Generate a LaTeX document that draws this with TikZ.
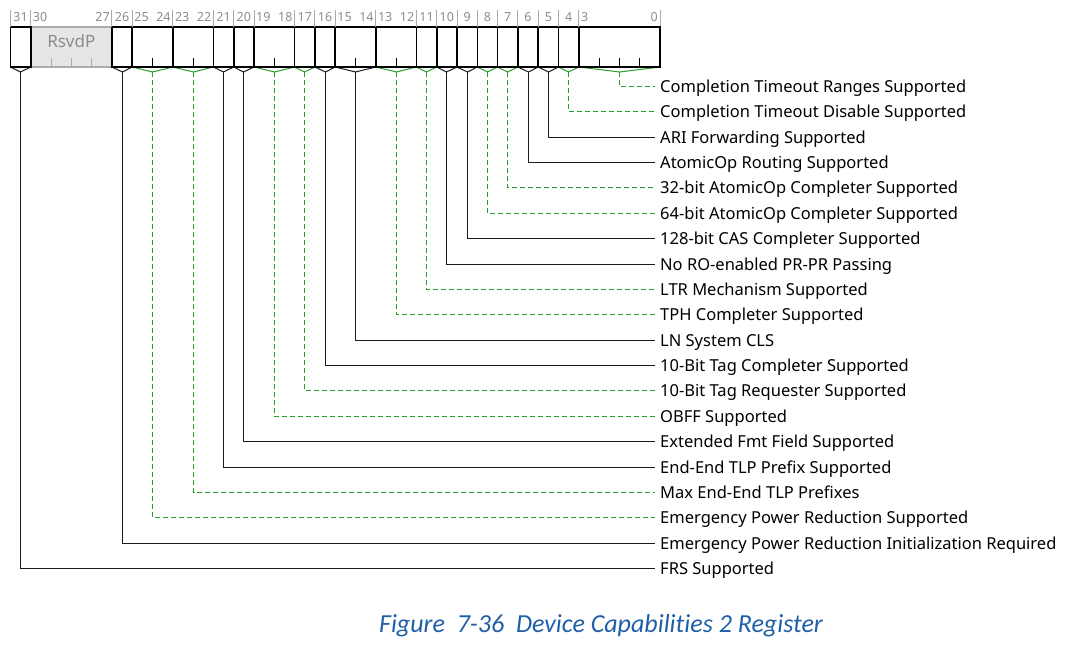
\documentclass[tikz,border=0pt]{standalone}
\usepackage{fontspec}
\setmainfont{Noto Sans}
\newfontfamily\capfont[Ligatures={NoCommon}]{Carlito}
\definecolor{bitgray}{HTML}{8C8C8C}
\definecolor{sepgray}{HTML}{AAAAAA}
\definecolor{vgreen}{HTML}{2E9A2E}
\definecolor{dgreen}{HTML}{2A9E2A}
\definecolor{lblack}{HTML}{1A1A1A}
\definecolor{capblue}{HTML}{1F5FA8}
\definecolor{rsvfill}{HTML}{E6E6E6}
\begin{document}
\begin{tikzpicture}[x=1pt,y=-1pt,
  field/.style={draw=black,line width=1.6pt,minimum height=40pt,inner sep=0pt,outer sep=0pt},
  rsvbox/.style={draw=sepgray,fill=rsvfill,line width=1.6pt,minimum height=40pt,inner sep=0pt,outer sep=0pt},
  bitnum/.style={text=bitgray,font=\fontsize{12.5}{14}\selectfont,inner sep=0pt},
  sepline/.style={draw=sepgray,line width=1pt},
  tick/.style={draw=black,line width=1pt},
  rtick/.style={draw=sepgray,line width=1pt},
  vees/.style={draw=lblack,line width=1pt},
  veed/.style={draw=vgreen,line width=1pt},
  conns/.style={draw=lblack,line width=1.2pt},
  connd/.style={draw=dgreen,line width=1.3pt,dash pattern=on 5pt off 3pt},
  lab/.style={anchor=west,inner xsep=5pt,inner ysep=0pt,text height=11.6pt,text depth=0pt,font=\fontsize{16.5}{19}\selectfont,text=black},
  captext/.style={font=\capfont\itshape\fontsize{26}{30}\selectfont,text=capblue,inner sep=0pt}
]
\useasboundingbox (0,0) rectangle (1073,653);
\def\R{660}
\def\bw{20.3}
% right edge separator
\draw[sepline] (\R,10) -- (\R,27);
% reserved field 30-27
\pgfmathsetmacro\rl{\R-31*\bw}
\pgfmathsetmacro\rr{\R-27*\bw}
\pgfmathsetmacro\rc{(\rl+\rr)/2}
\pgfmathsetmacro\rw{\rr-\rl}
\node[rsvbox,minimum width=\rw pt] (f30) at (\rc,47) {};
\node[text=bitgray,font=\fontsize{17}{19}\selectfont,inner sep=0pt] (rsvd) at (\rc,41) {RsvdP};
\foreach \k in {28,29,30}{
  \pgfmathsetmacro\tx{\R-\k*\bw}
  \draw[rtick] (\tx,66) -- (\tx,58);
}
\draw[sepline] (\rl,10) -- (\rl,27);
\node[bitnum,anchor=west] (n30) at (\rl+2,17) {30};
\node[bitnum,anchor=east] (n27) at (\rr-2,17) {27};
% defined fields
\foreach \m/\l/\t/\k/\txt in {
  31/31/s/19/FRS Supported,
  26/26/s/18/Emergency Power Reduction Initialization Required,
  25/24/d/17/Emergency Power Reduction Supported,
  23/22/d/16/Max End-End TLP Prefixes,
  21/21/s/15/End-End TLP Prefix Supported,
  20/20/s/14/Extended Fmt Field Supported,
  19/18/d/13/OBFF Supported,
  17/17/d/12/10-Bit Tag Requester Supported,
  16/16/s/11/10-Bit Tag Completer Supported,
  15/14/s/10/LN System CLS,
  13/12/d/9/TPH Completer Supported,
  11/11/d/8/LTR Mechanism Supported,
  10/10/s/7/No RO-enabled PR-PR Passing,
  9/9/s/6/128-bit CAS Completer Supported,
  8/8/d/5/64-bit AtomicOp Completer Supported,
  7/7/d/4/32-bit AtomicOp Completer Supported,
  6/6/s/3/AtomicOp Routing Supported,
  5/5/s/2/ARI Forwarding Supported,
  4/4/d/1/Completion Timeout Disable Supported,
  3/0/d/0/Completion Timeout Ranges Supported}{
  \pgfmathsetmacro\xl{\R-(\m+1)*\bw}
  \pgfmathsetmacro\xr{\R-\l*\bw}
  \pgfmathsetmacro\xc{floor((\xl+\xr)/2)+0.5}
  \pgfmathsetmacro\ww{\xr-\xl}
  \pgfmathsetmacro\yy{floor(86.5+25.37*\k)+0.5}
  \coordinate (v\m) at (\xc,72);
  \node[lab] (l\m) at (655,\yy) {\txt};
  \draw[conn\t] (v\m) |- (l\m.west);
  \draw[vee\t] (\xl,67) -- (v\m) -- (\xr,67);
  \node[field,minimum width=\ww pt] (f\m) at ({(\xl+\xr)/2},47) {};
  \draw[sepline] (\xl,10) -- (\xl,27);
  \ifnum\m=\l
    \node[bitnum] (n\m) at ({(\xl+\xr)/2},17) {\m};
  \else
    \node[bitnum,anchor=west] (n\m) at (\xl+2,17) {\m};
    \node[bitnum,anchor=east] (nn\m) at (\xr-2,17) {\l};
    \pgfmathtruncatemacro\lo{\l+1}
    \foreach \b in {\lo,...,\m}{
      \pgfmathsetmacro\tx{\R-\b*\bw}
      \draw[tick] (\tx,66) -- (\tx,58);
    }
  \fi
}
\node[captext] (caption) at (601,626) {Figure\ \ 7-36\ \ Device Capabilities 2 Register};
\end{tikzpicture}
\end{document}
